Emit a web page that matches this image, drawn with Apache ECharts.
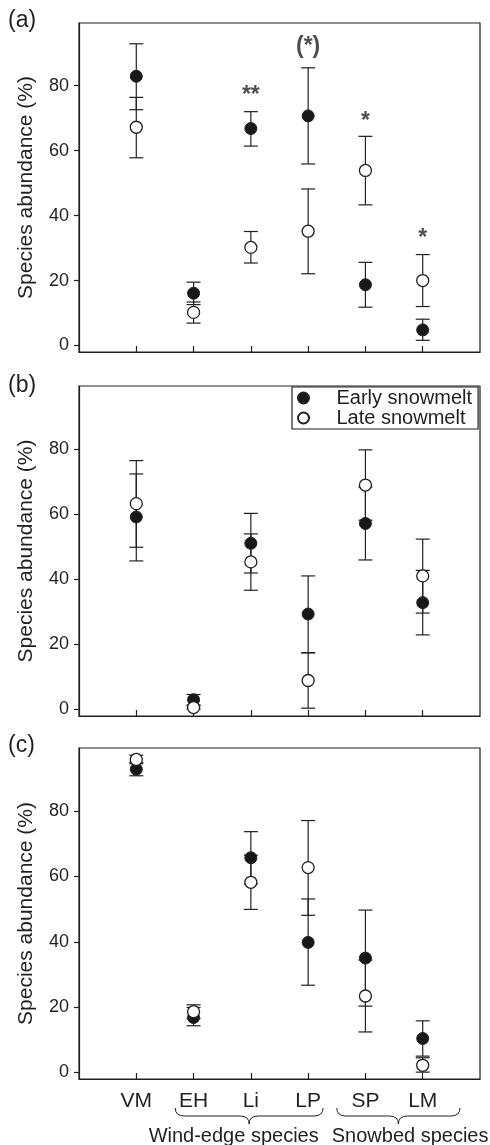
<!DOCTYPE html>
<html>
<head>
<meta charset="utf-8">
<script src="https://cdn.jsdelivr.net/npm/echarts@6/dist/echarts.min.js"></script>
<style>
  html, body { margin: 0; padding: 0; background: #fff; }
  #chart { width: 490px; height: 1145px; }
</style>
</head>
<body>
<div id="chart"></div>
<script>
// species along the x axis
var species = ["VM", "EH", "Li", "LP", "SP", "LM"];
var yTicks = [0, 20, 40, 60, 80];

// (a)
var earlyA = [82.9, 16.1, 66.8, 70.7, 18.7, 4.8];
var earlyAHi = [92.9, 19.5, 72.0, 85.5, 25.6, 8.1];
var earlyALo = [72.6, 12.6, 61.4, 55.9, 11.8, 1.6];
var lateA = [67.2, 10.2, 30.2, 35.2, 53.9, 20.0];
var lateAHi = [76.4, 13.4, 35.1, 48.2, 64.4, 28.0];
var lateALo = [57.8, 6.9, 25.4, 22.1, 43.3, 12.0];
// significance marks in (a): text, species, height
var marksA = [["**", "Li", 77.0], ["(*)", "LP", 92.0], ["*", "SP", 68.8], ["*", "LM", 32.9]];

// (b)
var earlyB = [59.1, 3.0, 51.0, 29.3, 57.1, 32.8];
var earlyBHi = [72.3, 4.6, 60.2, 41.0, 68.3, 42.7];
var earlyBLo = [45.6, 1.4, 41.9, 17.4, 45.9, 22.9];
var lateB = [63.2, 0.6, 45.3, 8.9, 68.9, 41.0];
var lateBHi = [76.4, 1.1, 53.9, 17.4, 79.7, 52.3];
var lateBLo = [49.8, 0.1, 36.6, 0.4, 58.1, 29.6];

// (c)
var earlyC = [92.8, 16.8, 65.7, 39.8, 35.0, 10.4];
var earlyCHi = [94.8, 19.9, 73.7, 53.1, 49.7, 15.8];
var earlyCLo = [90.8, 14.3, 57.7, 26.7, 20.3, 5.0];
var lateC = [95.8, 18.6, 58.2, 62.7, 23.4, 2.2];
var lateCHi = [97.1, 20.7, 66.5, 77.1, 34.4, 4.5];
var lateCLo = [94.5, 16.5, 49.9, 48.1, 12.4, 0.1];

// species groups under (c): label, brace start, brace end, label centre (x units)
var groups = [["Wind-edge species", 1.68, 4.26, 2.7], ["Snowbed species", 4.5, 6.65, 5.78]];

var ink = "#231f20";
var font = "Liberation Sans, Arial, sans-serif";

function pts(vals) {
  return vals.map(function (v, i) { return [i + 1, v]; });
}
function bars(lo, hi) {
  return lo.map(function (v, i) { return [i + 1, v, hi[i]]; });
}

function errorBar(p, api) {
  var a = api.coord([api.value(0), api.value(2)]);
  var b = api.coord([api.value(0), api.value(1)]);
  var w = 7;
  var st = { stroke: ink, lineWidth: 1.2 };
  return {
    type: "group",
    children: [
      { type: "line", shape: { x1: a[0], y1: a[1], x2: b[0], y2: b[1] }, style: st },
      { type: "line", shape: { x1: a[0] - w, y1: a[1], x2: a[0] + w, y2: a[1] }, style: st },
      { type: "line", shape: { x1: b[0] - w, y1: b[1], x2: b[0] + w, y2: b[1] }, style: st }
    ]
  };
}

var grids = [
  { left: 79, right: 10, top: 23, height: 329 },
  { left: 79, right: 10, top: 386, height: 330 },
  { left: 79, right: 10, top: 748, height: 331 }
];

var xAxes = [], yAxes = [];
for (var g = 0; g < 3; g++) {
  grids[g].show = true;
  grids[g].borderColor = ink;
  grids[g].borderWidth = 1.2;
  xAxes.push({
    type: "value", gridIndex: g, min: 0, max: 7,
    splitLine: { show: false },
    axisLine: { onZero: false, lineStyle: { color: ink, width: 1.2 } },
    axisTick: { inside: true, length: 6, customValues: [1, 2, 3, 4, 5, 6], lineStyle: { color: ink, width: 1.2 } },
    axisLabel: {
      show: g === 2, customValues: [1, 2, 3, 4, 5, 6], margin: 12,
      color: ink, fontSize: 21, fontFamily: font,
      formatter: function (v) { return species[v - 1]; }
    }
  });
  yAxes.push({
    type: "value", gridIndex: g, min: -2, max: 99.3,
    name: "Species abundance (%)", nameLocation: "middle", nameGap: 42,
    nameTextStyle: { color: ink, fontSize: 21, fontFamily: font },
    splitLine: { show: false },
    axisLine: { show: true, lineStyle: { color: ink, width: 1.2 } },
    axisTick: { show: true, length: 5, customValues: yTicks, lineStyle: { color: ink, width: 1.2 } },
    axisLabel: { customValues: yTicks, margin: 10, color: ink, fontSize: 18, fontFamily: font }
  });
}

var panels = [
  [earlyA, earlyALo, earlyAHi, lateA, lateALo, lateAHi],
  [earlyB, earlyBLo, earlyBHi, lateB, lateBLo, lateBHi],
  [earlyC, earlyCLo, earlyCHi, lateC, lateCLo, lateCHi]
];

var series = [];
panels.forEach(function (d, g) {
  series.push({
    type: "custom", xAxisIndex: g, yAxisIndex: g, silent: true,
    renderItem: errorBar, encode: { x: 0, y: [1, 2] },
    data: bars(d[1], d[2]).concat(bars(d[4], d[5]))
  });
  series.push({
    name: "Early snowmelt", type: "scatter", xAxisIndex: g, yAxisIndex: g,
    symbol: "circle", symbolSize: 12,
    itemStyle: { color: "#1a1718", borderColor: ink, borderWidth: 1, opacity: 1 },
    data: pts(d[0])
  });
  series.push({
    name: "Late snowmelt", type: "scatter", xAxisIndex: g, yAxisIndex: g,
    symbol: "circle", symbolSize: 12,
    itemStyle: { color: "#fff", borderColor: ink, borderWidth: 1.3, opacity: 1 },
    data: pts(d[3])
  });
});

// stars over (a)
series.push({
  type: "scatter", xAxisIndex: 0, yAxisIndex: 0, symbolSize: 0, silent: true,
  label: {
    show: true, position: "inside", color: ink, fontSize: 23, fontWeight: "bold", fontFamily: font,
    formatter: function (p) { return p.data[2]; }
  },
  data: marksA.map(function (m) { return [species.indexOf(m[1]) + 1, m[2], m[0]]; })
});

// braces and group names under (c)
series.push({
  type: "custom", xAxisIndex: 2, yAxisIndex: 2, silent: true, clip: false,
  encode: { x: [1, 2] },
  renderItem: function (p, api) {
    var a = api.coord([api.value(1), -2]);
    var b = api.coord([api.value(2), -2]);
    var t = api.coord([api.value(3), -2]);
    var y0 = a[1] + 29, y1 = y0 + 8, y2 = y0 + 16;
    var mx = (a[0] + b[0]) / 2;
    var path = "M" + a[0] + "," + y0 +
      " Q" + a[0] + "," + y1 + " " + (a[0] + 9) + "," + y1 +
      " L" + (mx - 9) + "," + y1 +
      " Q" + mx + "," + y1 + " " + mx + "," + y2 +
      " Q" + mx + "," + y1 + " " + (mx + 9) + "," + y1 +
      " L" + (b[0] - 9) + "," + y1 +
      " Q" + b[0] + "," + y1 + " " + b[0] + "," + y0;
    return {
      type: "group",
      children: [
        { type: "path", shape: { pathData: path }, style: { fill: null, stroke: ink, lineWidth: 1 } },
        {
          type: "text", x: t[0], y: y2 + 12,
          style: { text: groups[p.dataIndex][0], fill: ink, fontSize: 20, fontFamily: font, align: "center", verticalAlign: "middle" }
        }
      ]
    };
  },
  data: groups
});

var myChart = echarts.init(document.getElementById("chart"));
myChart.setOption({
  animation: false,
  grid: grids,
  xAxis: xAxes,
  yAxis: yAxes,
  legend: {
    data: ["Early snowmelt", "Late snowmelt"],
    orient: "vertical",
    left: 292, top: 387,
    padding: [1, 6, 1, 5],
    itemGap: 0,
    itemWidth: 12, itemHeight: 11,
    borderColor: ink, borderWidth: 1.2,
    textStyle: { color: ink, fontSize: 20, fontFamily: font, padding: [0, 0, 0, 22] }
  },
  graphic: [
    { type: "text", left: 8, top: 9, style: { text: "(a)", fill: ink, fontSize: 23, fontFamily: font } },
    { type: "text", left: 8, top: 374, style: { text: "(b)", fill: ink, fontSize: 23, fontFamily: font } },
    { type: "text", left: 8, top: 734, style: { text: "(c)", fill: ink, fontSize: 23, fontFamily: font } }
  ],
  series: series
});
</script>
</body>
</html>
